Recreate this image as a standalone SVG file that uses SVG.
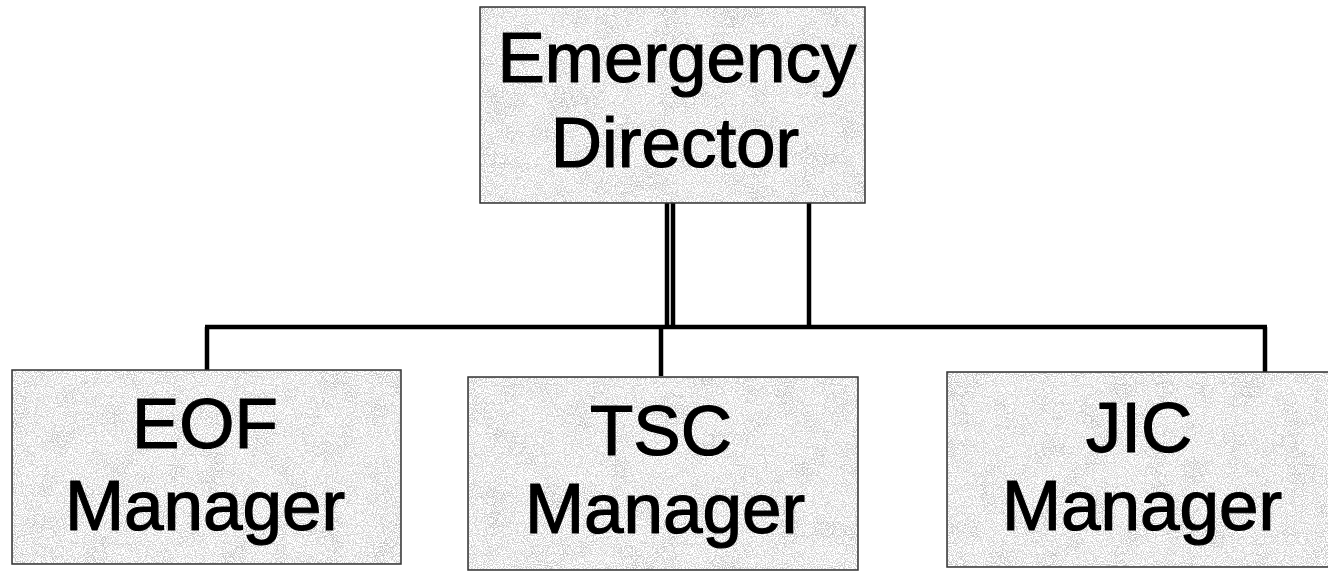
<svg xmlns="http://www.w3.org/2000/svg" width="1328" height="574" viewBox="0 0 1328 574">
  <style>
    .box { fill: #d2d2d2; stroke: #333; stroke-width: 1.5; }
    .mottle { filter: url(#grain); }
    .speck { filter: url(#speckle); }
    .label { font-family: "Liberation Sans", Arial, sans-serif; font-size: 71px; fill: #000; stroke: #000; stroke-width: 1.2; text-anchor: middle; }
    .wire { fill: none; stroke: #000; stroke-width: 4.5; }
  </style>
  <defs>
    <!-- soft grey blotches laid over each box fill -->
    <filter id="grain" x="0" y="0" width="100%" height="100%">
      <feTurbulence type="fractalNoise" baseFrequency="0.035" numOctaves="3" seed="7" result="noise"/>
      <feColorMatrix in="noise" type="matrix" values="0 0 0 0 0.5  0 0 0 0 0.5  0 0 0 0 0.5  0 0 0 -2.4 1.4" result="spots"/>
      <feComposite in="spots" in2="SourceGraphic" operator="in"/>
    </filter>
    <!-- fine light specks scattered over the fill -->
    <filter id="speckle" x="0" y="0" width="100%" height="100%">
      <feTurbulence type="fractalNoise" baseFrequency="0.9" numOctaves="1" seed="3" result="n"/>
      <feColorMatrix in="n" type="matrix" values="0 0 0 0 1  0 0 0 0 1  0 0 0 0 1  0 0 0 -9 5.2" result="dots"/>
      <feComposite in="dots" in2="SourceGraphic" operator="in"/>
    </filter>
  </defs>

  <rect width="1328" height="574" fill="#fff"/>

  <g id="connectors">
    <line class="wire" x1="667" y1="203" x2="667" y2="327"/>
    <line class="wire" x1="673" y1="203" x2="673" y2="327"/>
    <line class="wire" x1="809" y1="203" x2="809" y2="327"/>
    <line class="wire" x1="205" y1="327" x2="1267" y2="327"/>
    <polyline class="wire" points="207,327 207,370"/>
    <polyline class="wire" points="661,327 661,376"/>
    <polyline class="wire" points="1265,327 1265,372"/>
  </g>

  <g id="emergency-director">
    <rect class="box" x="480" y="7" width="385" height="196"/>
    <rect class="mottle" x="481" y="8" width="383" height="194" fill="#fff"/>
    <rect class="speck" x="481" y="8" width="383" height="194" fill="#fff"/>
    <text class="label" x="677" y="82">Emergency</text>
    <text class="label" x="675" y="167">Director</text>
  </g>

  <g id="eof-manager">
    <rect class="box" x="12" y="370" width="389" height="194"/>
    <rect class="mottle" x="13" y="371" width="387" height="192" fill="#fff"/>
    <rect class="speck" x="13" y="371" width="387" height="192" fill="#fff"/>
    <text class="label" x="205" y="448">EOF</text>
    <text class="label" x="205" y="530">Manager</text>
  </g>

  <g id="tsc-manager">
    <rect class="box" x="468" y="377" width="390" height="193"/>
    <rect class="mottle" x="469" y="378" width="388" height="191" fill="#fff"/>
    <rect class="speck" x="469" y="378" width="388" height="191" fill="#fff"/>
    <text class="label" x="661" y="455">TSC</text>
    <text class="label" x="665" y="533">Manager</text>
  </g>

  <g id="jic-manager">
    <rect class="box" x="947" y="372" width="390" height="195"/>
    <rect class="mottle" x="948" y="373" width="388" height="193" fill="#fff"/>
    <rect class="speck" x="948" y="373" width="388" height="193" fill="#fff"/>
    <text class="label" x="1139" y="452">JIC</text>
    <text class="label" x="1142" y="530">Manager</text>
  </g>
</svg>
